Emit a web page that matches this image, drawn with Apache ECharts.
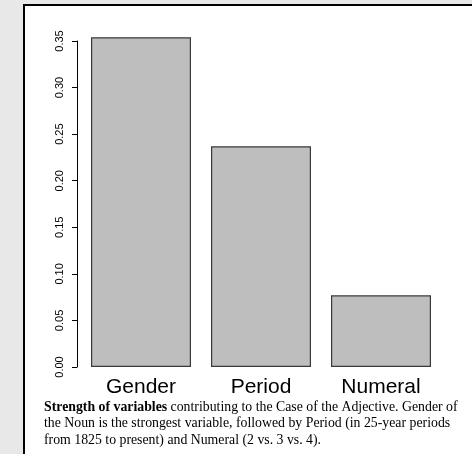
<!DOCTYPE html>
<html>
<head>
<meta charset="utf-8">
<script src="https://cdn.jsdelivr.net/npm/echarts@6/dist/echarts.min.js"></script>
<style>
html,body{margin:0;padding:0;background:#e8e8e8;}
#chart{width:472px;height:454px;}
</style>
</head>
<body>
<div id="chart"></div>
<script>
var categories = ['Gender', 'Period', 'Numeral'];
var strengths = [0.354, 0.237, 0.077];
var yTicks = { min: 0, max: 0.35, interval: 0.05 };
var captionBold = 'Strength of variables';
var captionLines = [
  ' contributing to the Case of the Adjective. Gender of',
  'the Noun is the strongest variable, followed by Period (in 25-year periods',
  'from 1825 to present) and Numeral (2 vs. 3 vs. 4).'
];

var chart = echarts.init(document.getElementById('chart'), null, { renderer: 'canvas' });
var serif = '"Liberation Serif", "DejaVu Serif", serif';
var sans = '"Liberation Sans", Arial, sans-serif';

chart.setOption({
  backgroundColor: 'transparent',
  animation: false,
  graphic: [
    {
      type: 'rect', z: -10, silent: true,
      shape: { x: 24, y: 5, width: 470, height: 470 },
      style: { fill: '#ffffff', stroke: '#000000', lineWidth: 2 }
    },
    {
      type: 'text', left: 44, top: 400, silent: true,
      style: {
        text: '{b|' + captionBold + '}{r|' + captionLines[0] + '}\n{r|' + captionLines[1] + '}\n{r|' + captionLines[2] + '}',
        rich: {
          b: { fontFamily: serif, fontSize: 13.8, fontWeight: 'bold', fill: '#000', lineHeight: 16.6 },
          r: { fontFamily: serif, fontSize: 13.8, fill: '#000', lineHeight: 16.6 }
        }
      }
    }
  ],
  grid: { left: 81, right: 31, top: 41, bottom: 87, containLabel: false },
  xAxis: {
    type: 'category',
    data: categories,
    axisLine: { show: false },
    axisTick: { show: false },
    axisLabel: { fontFamily: sans, fontSize: 21, color: '#000', margin: 10 }
  },
  yAxis: {
    type: 'value',
    min: yTicks.min, max: yTicks.max, interval: yTicks.interval,
    offset: 4,
    splitLine: { show: false },
    axisLine: { show: true, lineStyle: { color: '#000', width: 1 } },
    axisTick: { show: true, length: 5, lineStyle: { color: '#000', width: 1 } },
    axisLabel: {
      rotate: 90, fontFamily: sans, fontSize: 11, color: '#000', margin: 12,
      formatter: function (v) { return v.toFixed(2); }
    }
  },
  series: [{
    type: 'bar',
    data: strengths,
    barWidth: 100,
    clip: false,
    itemStyle: { color: '#bebebe', borderColor: '#3a3a3a', borderWidth: 1.2 }
  }]
});
</script>
</body>
</html>
